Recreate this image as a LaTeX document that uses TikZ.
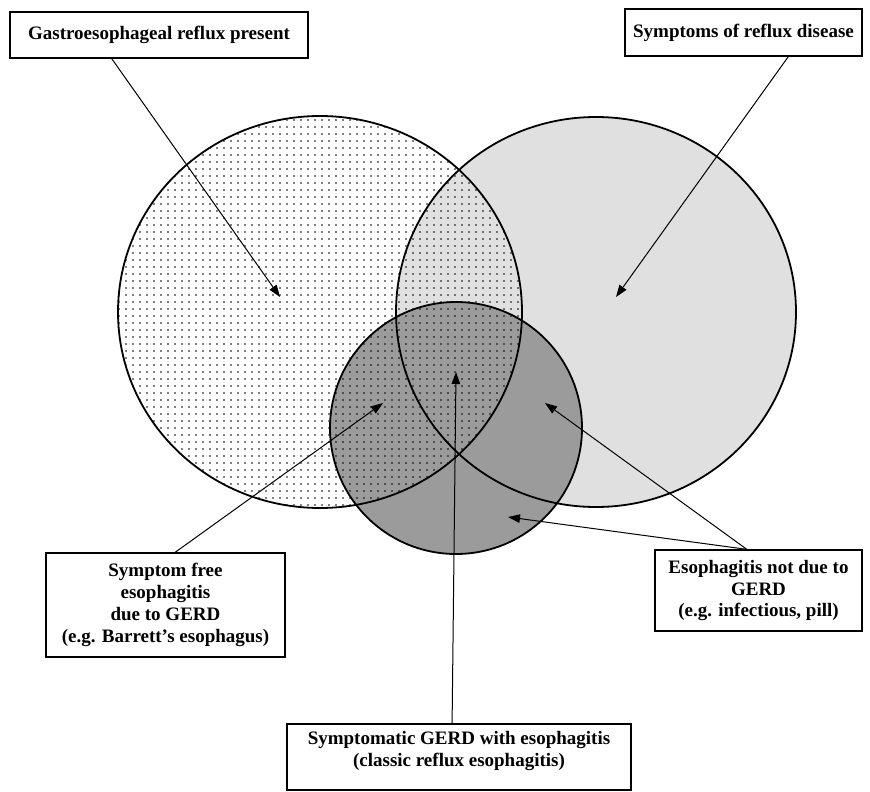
\documentclass[tikz,border=0pt]{standalone}
\usepackage{fontspec}
\setmainfont{Liberation Serif}
\usetikzlibrary{arrows.meta,patterns.meta,calc}
\definecolor{lightfill}{RGB}{224,224,224}
\definecolor{midfill}{RGB}{155,155,155}
\begin{document}
\begin{tikzpicture}[x=1pt,y=-1pt,
  txt/.style={font=\bfseries\fontsize{19}{21.8}\selectfont, align=center},
  lbl/.style={draw, line width=1.3pt, fill=white, txt, inner sep=0pt},
  conn/.style={line width=1pt, -{Triangle[length=12pt,width=8.5pt]}},
  ring/.style={line width=1.8pt}]
\useasboundingbox (0,0) rectangle (870,792);
% fills
\fill[lightfill] (596,312) ellipse [x radius=200pt, y radius=195pt];
\fill[midfill] (456,428) circle [radius=126pt];
\fill[pattern={Dots[distance=7pt,radius=0.85pt]}, pattern color=black] (320,312) ellipse [x radius=202pt, y radius=196pt];
% outlines
\draw[ring] (320,312) ellipse [x radius=202pt, y radius=196pt];
\draw[ring] (596,312) ellipse [x radius=200pt, y radius=195pt];
\draw[ring] (456,428) circle [radius=126pt];
% boxes
\node[lbl, minimum width=298pt, minimum height=46pt] (b1) at (159,35) {Gastroesophageal reflux present};
\node[lbl, minimum width=237pt, minimum height=47pt] (b2) at (743.5,32.5) {Symptoms of reflux disease};
\node[lbl, minimum width=239pt, minimum height=104pt] (b3) at (165.5,605) {Symptom free\\esophagitis\\due to GERD\\(e.g. Barrett’s esophagus)};
\node[lbl, minimum width=207pt, minimum height=81pt] (b4) at (758.5,590.5) {Esophagitis not due to\\GERD\\(e.g. infectious, pill)};
\node[lbl, minimum width=344pt, minimum height=66pt,
  label={[txt, anchor=north, inner sep=0pt, yshift=-8pt]north:Symptomatic GERD with esophagitis\\(classic reflux esophagitis)}] (b5) at (459,757) {};
% arrow tips
\coordinate (t1) at (280,297);
\coordinate (t2) at (616,297);
\coordinate (t3) at (383,403);
\coordinate (t4) at (456,372);
\coordinate (t5) at (545,403);
\coordinate (t6) at (508,517);
% connectors
\draw[conn] ($(b1.south west)!0.342!(b1.south east)$) -- (t1);
\draw[conn] ($(b2.south west)!0.688!(b2.south east)$) -- (t2);
\draw[conn] ($(b3.north west)!0.54!(b3.north east)$) -- (t3);
\draw[conn] ($(b5.north west)!0.48!(b5.north east)$) -- (t4);
\draw[conn] ($(b4.north west)!0.444!(b4.north east)$) -- (t5);
\draw[conn] ($(b4.north west)!0.444!(b4.north east)$) -- (t6);
\end{tikzpicture}
\end{document}
